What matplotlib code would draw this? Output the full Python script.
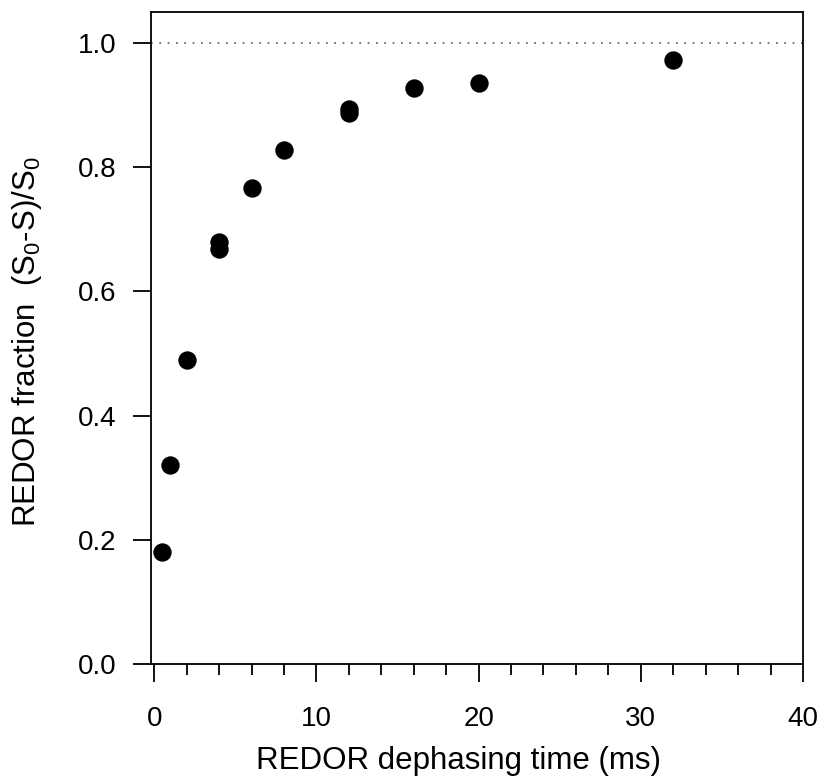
import matplotlib
matplotlib.use("Agg")
import matplotlib.pyplot as plt
from matplotlib.ticker import MultipleLocator

time_ms = [0.5, 1, 2, 4, 4, 6, 8, 12, 12, 16, 20, 32]
redor_frac = [0.18, 0.32, 0.49, 0.679, 0.669, 0.766, 0.828, 0.894, 0.887, 0.928, 0.936, 0.973]
x_ticks = [0, 10, 20, 30, 40]
y_ticks = [0.0, 0.2, 0.4, 0.6, 0.8, 1.0]

plt.rcParams['font.family'] = ['Liberation Sans', 'DejaVu Sans']
plt.rcParams['mathtext.fontset'] = 'custom'
plt.rcParams['mathtext.rm'] = 'Liberation Sans'
plt.rcParams['mathtext.it'] = 'Liberation Sans:italic'

W, H = 826, 777
fig = plt.figure(figsize=(W / 100, H / 100), dpi=100)
L, R, B, T = 151, 803, 664, 12
ax = fig.add_axes([L / W, 1 - B / H, (R - L) / W, (B - T) / H])

ax.axhline(1.0, color='#555555', linestyle=(0, (1, 4)), linewidth=1.2, zorder=1)
ax.scatter(time_ms, redor_frac, s=175, color='black', zorder=3, linewidths=0)

ax.set_xlim(-0.2, 40)
ax.set_ylim(0, 1.05)
ax.set_xticks(x_ticks)
ax.set_yticks(y_ticks)
ax.xaxis.set_minor_locator(MultipleLocator(2))
ax.set_yticklabels([f"{v:.1f}" for v in y_ticks])

for s in ax.spines.values():
    s.set_linewidth(1.3)
ax.tick_params(axis='both', which='major', direction='out', length=13, width=1.3,
               labelsize=20, top=False, right=False)
ax.tick_params(axis='x', which='major', pad=17)
ax.tick_params(axis='y', which='major', pad=12)
ax.tick_params(axis='x', which='minor', direction='out', length=8, width=1.3, top=False)

ax.set_xlabel('REDOR dephasing time (ms)', fontsize=22.5, ha='left', va='baseline')
ax.xaxis.set_label_coords((256 - L) / (R - L), (B - 769) / (B - T))
ax.set_ylabel('REDOR fraction  (S$_0$-S)/S$_0$', fontsize=22.5, ha='left', va='baseline',
              rotation_mode='anchor')
ax.yaxis.set_label_coords((35 - L) / (R - L), (B - 527) / (B - T))

fig.savefig('out.png', dpi=100)
